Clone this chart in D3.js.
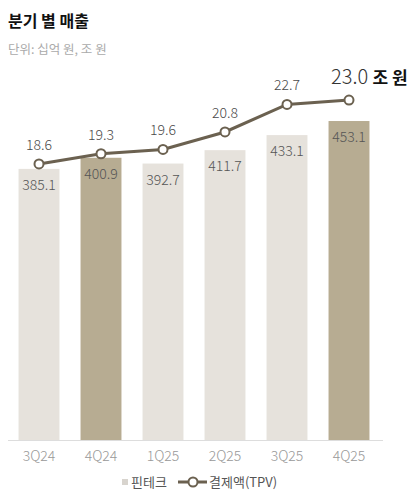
<!DOCTYPE html>
<html>
<head>
<meta charset="utf-8">
<script src="https://cdn.jsdelivr.net/npm/d3@7"></script>
<style>
  body { margin: 0; background: #fff; font-family: "Noto Sans CJK KR", "Noto Sans", sans-serif; }
</style>
</head>
<body>
<svg id="chart" width="416" height="500"></svg>
<script>
// chart data
const quarters = ["3Q24", "4Q24", "1Q25", "2Q25", "3Q25", "4Q25"];
const fintech = [385.1, 400.9, 392.7, 411.7, 433.1, 453.1];
const tpv = [18.6, 19.3, 19.6, 20.8, 22.7, 23.0];
const highlighted = ["4Q24", "4Q25"];

const lightBar = "#e6e2dc";
const darkBar = "#b7ac92";
const lineColor = "#6b6150";
const font = "'Noto Sans CJK KR', 'Noto Sans', sans-serif";

const svg = d3.select("#chart");
const baseY = 440;

// title
svg.append("text")
  .attr("x", 8).attr("y", 27)
  .attr("font-family", font).attr("font-size", 16).attr("font-weight", 700)
  .attr("fill", "#111")
  .text("분기 별 매출");

svg.append("text")
  .attr("x", 8).attr("y", 54)
  .attr("font-family", font).attr("font-size", 12.5)
  .attr("fill", "#aaa")
  .text("단위: 십억 원, 조 원");

const x = d3.scaleBand()
  .domain(quarters)
  .range([8, 380])
  .paddingInner(0.34)
  .paddingOuter(0.17);

const yBar = d3.scaleLinear().domain([0, 500]).range([baseY, baseY - 352]);
const yLine = d3.scaleLinear().domain([0, 25]).range([434, 71]);

// bars
svg.selectAll("rect.bar")
  .data(quarters)
  .enter()
  .append("rect")
  .attr("class", "bar")
  .attr("x", d => x(d))
  .attr("y", (d, i) => yBar(fintech[i]))
  .attr("width", x.bandwidth())
  .attr("height", (d, i) => baseY - yBar(fintech[i]))
  .attr("fill", d => highlighted.includes(d) ? darkBar : lightBar);

// bar value labels
svg.selectAll("text.bar-val")
  .data(quarters)
  .enter()
  .append("text")
  .attr("class", "bar-val")
  .attr("x", d => x(d) + x.bandwidth() / 2)
  .attr("y", (d, i) => yBar(fintech[i]) + 21)
  .attr("text-anchor", "middle")
  .attr("font-family", font).attr("font-size", 14).attr("font-weight", 300)
  .attr("fill", "#555")
  .text((d, i) => fintech[i].toFixed(1));

// baseline
svg.append("line")
  .attr("x1", 8).attr("x2", 383)
  .attr("y1", baseY + 0.5).attr("y2", baseY + 0.5)
  .attr("stroke", "#ddd").attr("stroke-width", 1);

// x labels
svg.selectAll("text.xlab")
  .data(quarters)
  .enter()
  .append("text")
  .attr("class", "xlab")
  .attr("x", d => x(d) + x.bandwidth() / 2)
  .attr("y", 461)
  .attr("text-anchor", "middle")
  .attr("font-family", font).attr("font-size", 14).attr("font-weight", 300)
  .attr("fill", "#999")
  .text(d => d);

// TPV line
const cx = d => x(d) + x.bandwidth() / 2;
const line = d3.line()
  .x(d => cx(d))
  .y((d, i) => yLine(tpv[i]));

svg.append("path")
  .datum(quarters)
  .attr("d", line)
  .attr("fill", "none")
  .attr("stroke", lineColor)
  .attr("stroke-width", 3);

svg.selectAll("circle.pt")
  .data(quarters)
  .enter()
  .append("circle")
  .attr("class", "pt")
  .attr("cx", cx)
  .attr("cy", (d, i) => yLine(tpv[i]))
  .attr("r", 4.5)
  .attr("fill", "#fff")
  .attr("stroke", lineColor)
  .attr("stroke-width", 2);

// TPV labels (last one is bigger)
svg.selectAll("text.tpv")
  .data(quarters.slice(0, -1))
  .enter()
  .append("text")
  .attr("class", "tpv")
  .attr("x", cx)
  .attr("y", (d, i) => yLine(tpv[i]) - 14)
  .attr("text-anchor", "middle")
  .attr("font-family", font).attr("font-size", 14).attr("font-weight", 300)
  .attr("fill", "#4a4a4a")
  .text((d, i) => tpv[i].toFixed(1));

const last = quarters.length - 1;
const bigLabel = svg.append("text")
  .attr("x", cx(quarters[last]) - 18)
  .attr("y", yLine(tpv[last]) - 16)
  .attr("text-anchor", "start")
  .attr("font-family", font);
bigLabel.append("tspan")
  .attr("font-size", 20).attr("font-weight", 300).attr("fill", "#333")
  .text(tpv[last].toFixed(1) + " ");
bigLabel.append("tspan")
  .attr("font-size", 17).attr("font-weight", 700).attr("fill", "#111")
  .text("조 원");

// legend
const leg = svg.append("g").attr("transform", "translate(0,482)");
leg.append("rect")
  .attr("x", 122).attr("y", -3).attr("width", 6).attr("height", 6)
  .attr("fill", "#d8d4ce");
leg.append("text")
  .attr("x", 131).attr("y", 5)
  .attr("font-family", font).attr("font-size", 13)
  .attr("fill", "#555")
  .text("핀테크");
leg.append("line")
  .attr("x1", 178).attr("x2", 207).attr("y1", 0).attr("y2", 0)
  .attr("stroke", lineColor).attr("stroke-width", 3);
leg.append("circle")
  .attr("cx", 193).attr("cy", 0).attr("r", 4.5)
  .attr("fill", "#fff").attr("stroke", lineColor).attr("stroke-width", 2);
leg.append("text")
  .attr("x", 209).attr("y", 5)
  .attr("font-family", font).attr("font-size", 13)
  .attr("fill", "#555")
  .text("결제액(TPV)");
</script>
</body>
</html>
